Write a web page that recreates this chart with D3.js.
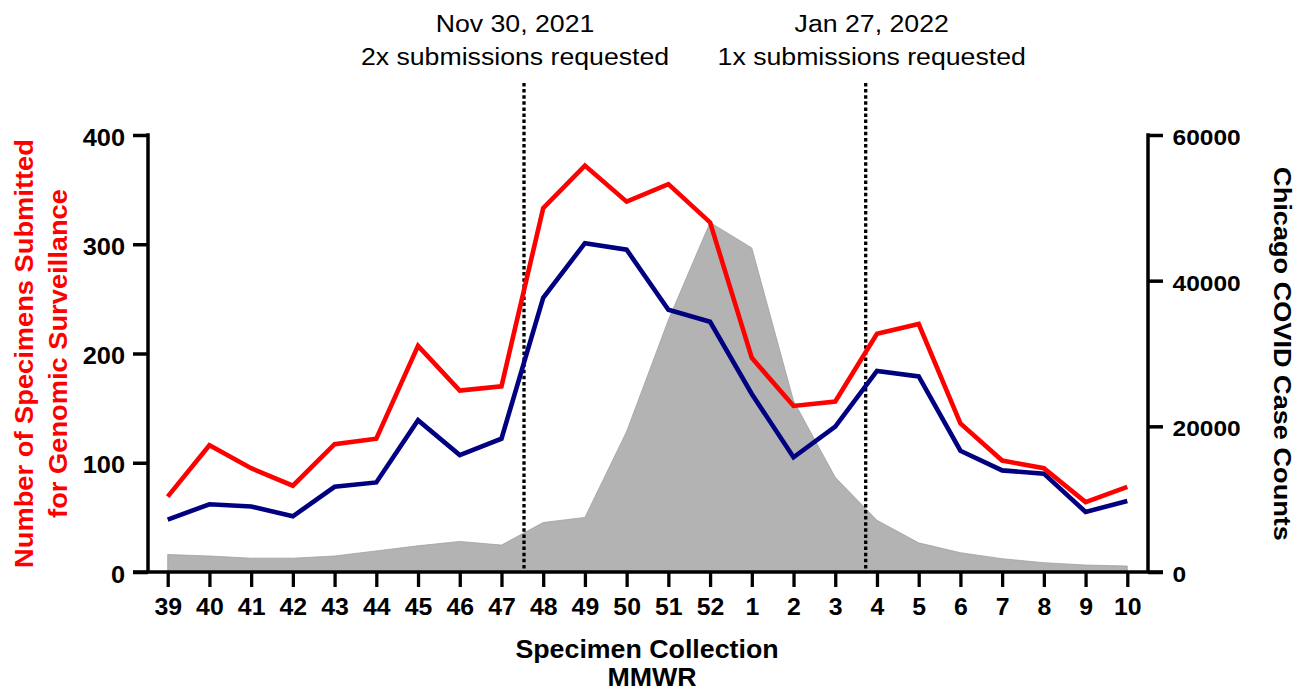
<!DOCTYPE html>
<html><head><meta charset="utf-8">
<script src="https://cdn.jsdelivr.net/npm/d3@7"></script>
<style>body{margin:0;background:#fff;overflow:hidden}</style>
</head><body>
<svg id="c" width="1311" height="694"></svg>
<script>
// ---- data ----
const weeks = ["39","40","41","42","43","44","45","46","47","48","49","50","51","52","1","2","3","4","5","6","7","8","9","10"];
const submitted = [69,116,95,79,117,122,207,166,170,333,372,339,355,320,196,152,156,218,227,136,102,95,64,78];
const sequenced = [48,62,60,51,78,82,139,107,122,251,301,295,240,229,163,105,133,184,179,111,93,90,55,65];
const caseCounts = [2400,2200,1900,1900,2200,2900,3600,4200,3700,6800,7500,19300,34600,48000,44500,23500,13000,7100,4000,2650,1830,1280,960,820];
const leftTicks = [0,100,200,300,400];
const rightTicks = [0,20000,40000,60000];
const annotationWeeks = ["47","3"];
const annotationFractions = [0.54,0.73];
const annotationDates = ["Nov 30, 2021","Jan 27, 2022"];
const annotationNotes = ["2x submissions requested","1x submissions requested"];

// ---- layout ----
const FONT = '"Liberation Sans", Arial, sans-serif';
const svg = d3.select("#c");
const plotLeft = 148, plotRight = 1148, plotTop = 135, plotBottom = 572;
const x = d3.scalePoint().domain(weeks).range([167.7, 1127.3]);
const yL = d3.scaleLinear().domain([0,400]).range([plotBottom, plotTop]);
const yR = d3.scaleLinear().domain([0,60000]).range([plotBottom, plotTop]);
const step = x.step();

function stretchText(sel, tx, ty, rot, sx){
  sel.attr("x",0).attr("y",0).attr("dy",null)
     .attr("transform", `translate(${tx},${ty}) rotate(${rot}) scale(${sx},1)`);
}

// gray area (cases)
svg.append("path")
  .datum(caseCounts)
  .attr("d", d3.area().x((d,i)=>x(weeks[i])).y0(yR(0)).y1(d=>yR(d)))
  .attr("fill","#b3b3b3").attr("stroke","#999").attr("stroke-width",0.7);

// dotted reference lines + annotation text
const labelOffsets = [-9, 6];
annotationWeeks.forEach((w,i)=>{
  const lx = x(w) + annotationFractions[i]*step;
  svg.append("line").attr("x1",lx).attr("x2",lx).attr("y1",83).attr("y2",plotBottom)
    .attr("stroke","#000").attr("stroke-width",3.3).attr("stroke-dasharray","3.5,2.6");
  const cx = lx + labelOffsets[i];
  const t1 = svg.append("text").text(annotationDates[i])
    .attr("font-family",FONT).attr("font-size",23).attr("text-anchor","middle").attr("fill","#000");
  stretchText(t1, cx, 31.5, 0, 1.16);
  const t2 = svg.append("text").text(annotationNotes[i])
    .attr("font-family",FONT).attr("font-size",23).attr("text-anchor","middle").attr("fill","#000");
  stretchText(t2, cx, 65, 0, 1.16);
});

// lines
const lineGen = d3.line().x((d,i)=>x(weeks[i])).y(d=>yL(d));
svg.append("path").datum(sequenced).attr("d",lineGen)
  .attr("fill","none").attr("stroke","#000080").attr("stroke-width",4.6).attr("stroke-linejoin","miter");
svg.append("path").datum(submitted).attr("d",lineGen)
  .attr("fill","none").attr("stroke","#ff0000").attr("stroke-width",4.6).attr("stroke-linejoin","miter");

// axes
const axisColor = "#000", axisW = 3.5;
// left
const gL = svg.append("g").attr("transform",`translate(${plotLeft},0)`)
  .call(d3.axisLeft(yL).tickValues(leftTicks).tickSize(15).tickSizeOuter(0));
gL.select(".domain").remove();
gL.selectAll(".tick line").attr("stroke",axisColor).attr("stroke-width",axisW);
gL.selectAll(".tick text").each(function(){
  const t = d3.select(this);
  t.attr("font-family",FONT).attr("font-size",23.5).attr("font-weight","bold").attr("fill","#000").attr("text-anchor","end");
  stretchText(t, -23, 10, 0, 1.08);
});
svg.append("line").attr("x1",plotLeft).attr("x2",plotLeft).attr("y1",plotTop-1.75).attr("y2",plotBottom)
  .attr("stroke",axisColor).attr("stroke-width",axisW);

// right
const gR = svg.append("g").attr("transform",`translate(${plotRight},0)`)
  .call(d3.axisRight(yR).tickValues(rightTicks).tickSize(15).tickSizeOuter(0).tickFormat(d3.format("d")));
gR.select(".domain").remove();
gR.selectAll(".tick line").attr("stroke",axisColor).attr("stroke-width",axisW);
gR.selectAll(".tick text").each(function(){
  const t = d3.select(this);
  t.attr("font-family",FONT).attr("font-size",22.5).attr("font-weight","bold").attr("fill","#000").attr("text-anchor","start");
  stretchText(t, 24.5, 9.5, 0, 1.09);
});
svg.append("line").attr("x1",plotRight).attr("x2",plotRight).attr("y1",plotTop-1.75).attr("y2",plotBottom)
  .attr("stroke",axisColor).attr("stroke-width",axisW);

// bottom
const gB = svg.append("g").attr("transform",`translate(0,${plotBottom})`)
  .call(d3.axisBottom(x).tickSize(15).tickSizeOuter(0));
gB.select(".domain").remove();
gB.selectAll(".tick line").attr("stroke",axisColor).attr("stroke-width",3.3);
gB.selectAll(".tick text").each(function(){
  const t = d3.select(this);
  t.attr("font-family",FONT).attr("font-size",23).attr("font-weight","bold").attr("fill","#000").attr("text-anchor","middle");
  stretchText(t, 0, 42.5, 0, 1.08);
});
svg.append("line").attr("x1",plotLeft-15).attr("x2",plotRight+15).attr("y1",plotBottom).attr("y2",plotBottom)
  .attr("stroke",axisColor).attr("stroke-width",axisW);

// axis titles
const xt1 = svg.append("text").text("Specimen Collection")
  .attr("font-family",FONT).attr("font-size",25.5).attr("font-weight","bold").attr("text-anchor","middle");
stretchText(xt1, 647, 658, 0, 1.05);
const xt2 = svg.append("text").text("MMWR")
  .attr("font-family",FONT).attr("font-size",25.5).attr("font-weight","bold").attr("text-anchor","middle");
stretchText(xt2, 652, 686, 0, 1.05);

const ly1 = svg.append("text").text("Number of Specimens Submitted")
  .attr("font-family",FONT).attr("font-size",25.5).attr("font-weight","bold").attr("text-anchor","middle").attr("fill","#ff0000");
stretchText(ly1, 33, 353.5, -90, 1.07);
const ly2 = svg.append("text").text("for Genomic Surveillance")
  .attr("font-family",FONT).attr("font-size",25.5).attr("font-weight","bold").attr("text-anchor","middle").attr("fill","#ff0000");
stretchText(ly2, 67, 353.5, -90, 1.07);

const ry = svg.append("text").text("Chicago COVID Case Counts")
  .attr("font-family",FONT).attr("font-size",23).attr("font-weight","bold").attr("text-anchor","middle").attr("fill","#000");
stretchText(ry, 1274, 354, 90, 1.18);
</script>
</body></html>
